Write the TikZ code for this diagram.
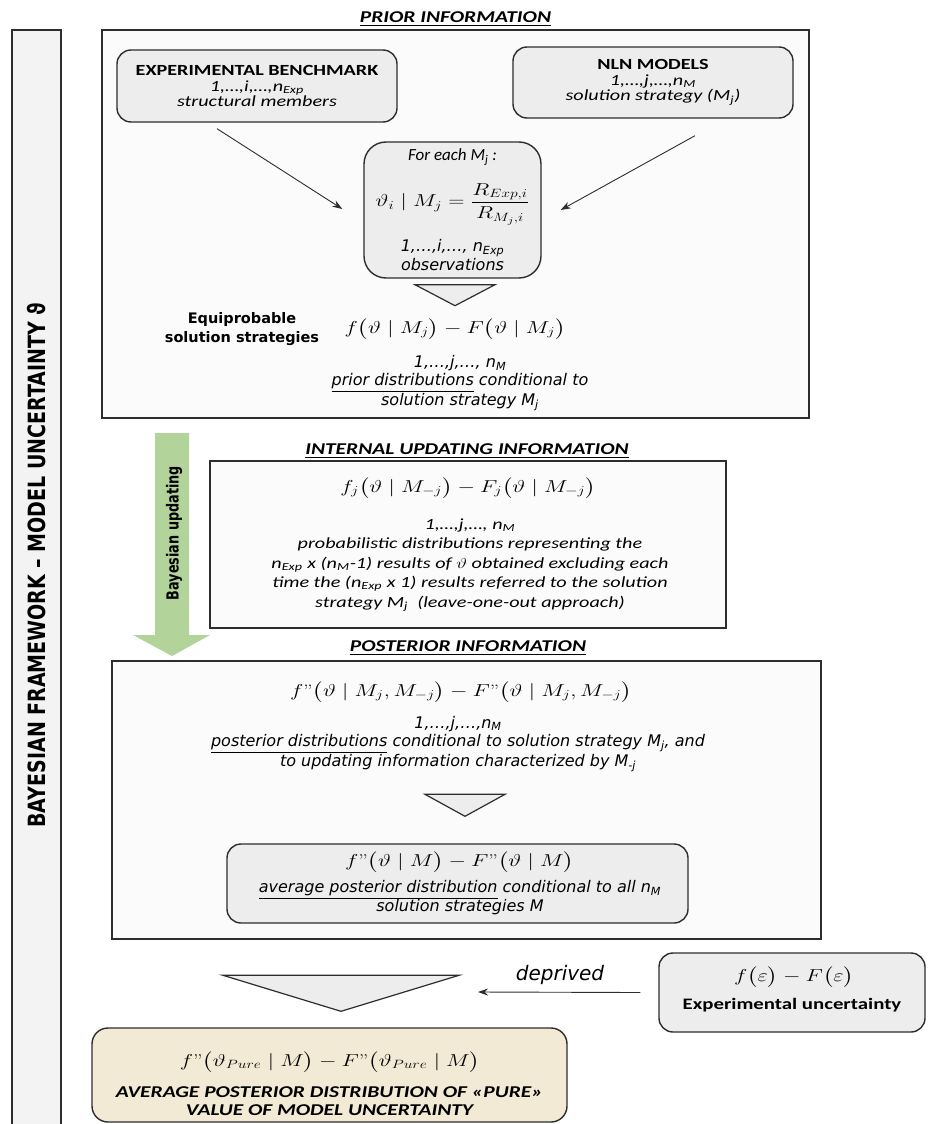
\documentclass[tikz,border=0pt]{standalone}
\usepackage{amsmath}
\usepackage{fontspec}
\usetikzlibrary{arrows.meta,calc}
\newfontfamily\calibri{Carlito}
\newfontfamily\verdana{DejaVu Sans}
\definecolor{linegray}{RGB}{45,45,45}
\definecolor{boxgray}{RGB}{237,237,237}
\definecolor{panelgray}{RGB}{251,251,251}
\definecolor{bargray}{RGB}{243,243,243}
\definecolor{bayesgreen}{RGB}{178,211,153}
\definecolor{purebeige}{RGB}{243,234,214}
\newcommand{\sz}[2]{\fontsize{#1}{#2}\selectfont}

\tikzset{
  panel/.style={draw=linegray, line width=1.8pt, fill=panelgray, inner sep=0pt},
  card/.style={draw=linegray, line width=1.4pt, fill=boxgray, rounded corners=14pt, inner sep=0pt},
  wide/.style={xscale=1.3, align=center, inner sep=0pt},
  plain/.style={align=center, inner sep=0pt},
  heading/.style={wide, font=\calibri\bfseries\itshape\sz{16.5}{18}},
  feed/.style={-{Stealth[length=10pt,width=7pt]}, line width=0.9pt, draw=linegray},
  funnel/.style={draw=linegray, line width=1.2pt, fill=boxgray, line join=miter},
}

\begin{document}
\begin{tikzpicture}[x=1pt, y=-1pt]
  \useasboundingbox[fill=white] (0,0) rectangle (928,1124);

  % side frame
  \node[draw=linegray, line width=1.6pt, fill=bargray, minimum width=49pt, minimum height=1110pt, inner sep=0pt] (frame) at (36.5,585) {};
  \node[rotate=90, yscale=1.25, inner sep=0pt, font=\verdana\bfseries\sz{19}{19}] (frametxt) at (36.5,565) {BAYESIAN FRAMEWORK – MODEL UNCERTAINTY ϑ};

  % prior information
  \node[heading] (priortitle) at (455.5,19) {\underline{PRIOR INFORMATION}};
  \node[panel, minimum width=707pt, minimum height=388pt] (prior) at (455.5,224) {};
  \node[card, minimum width=280pt, minimum height=72pt] (bench) at (257,86) {};
  \node[wide, font=\calibri\itshape\sz{15.5}{15.5}] (benchtxt) at (bench.center) {{\upshape\bfseries EXPERIMENTAL BENCHMARK}\\ 1,…,i,…,n\textsubscript{Exp}\\ structural members};
  \node[card, minimum width=280pt, minimum height=71pt] (nln) at (653,82.5) {};
  \node[wide, font=\calibri\itshape\sz{15.5}{15.5}] (nlntxt) at (nln.center) {{\upshape\bfseries NLN MODELS}\\ 1,…,j,…,n\textsubscript{M}\\ solution strategy (M\textsubscript{j})};

  \node[card, rounded corners=22pt, minimum width=177pt, minimum height=136pt] (ratio) at (452.5,210) {};
  \node[plain, font=\calibri\itshape\sz{17}{17}] (ratiohead) at (452.5,157) {For each M\textsubscript{j} :};
  \node[wide, font=\sz{18}{18}] (ratioeq) at (452.5,204) {$\vartheta_i \mid M_j = \dfrac{R_{Exp,i}}{R_{M_j,i}}$};
  \node[plain, font=\verdana\itshape\sz{16}{16}] (ratioobs) at (452.5,255) {1,…,i,…, n\textsubscript{Exp}\\ observations};

  \draw[feed] ($(bench.south)+(-40,6)$) -- ($(ratio.west)+(-21,-1)$);
  \draw[feed] ($(nln.south)+(42,17)$) -- ($(ratio.east)+(19,0)$);
  \draw[funnel] ($(ratio.south)+(-37.5,6)$) -- ++(80,0) -- ++(-40,21) -- cycle;

  \node[plain, font=\verdana\bfseries\sz{14.5}{19}] (equi) at (242,329) {Equiprobable\\ solution strategies};
  \node[wide, font=\sz{16.5}{17}] (priorf) at (455,329) {$f\bigl(\vartheta \mid M_j\bigr) - F\bigl(\vartheta \mid M_j\bigr)$};
  \node[plain, font=\verdana\itshape\sz{16}{18}] (priorlab) at (460,383) {1,…,j,…, n\textsubscript{M}\\ \underline{prior distributions} conditional to\\ solution strategy M\textsubscript{j}};

  % bayesian updating arrow
  \fill[bayesgreen] (155,433) -- (189,433) -- (189,635) -- (210,635) -- (172,656) -- (133,635) -- (155,635) -- cycle;
  \node[rotate=90, yscale=1.3, inner sep=0pt, font=\verdana\bfseries\sz{12.8}{13}] (bayes) at (174,533) {Bayesian updating};

  % internal updating information
  \node[heading] (inttitle) at (467,451) {\underline{INTERNAL UPDATING INFORMATION}};
  \node[panel, minimum width=516pt, minimum height=167pt] (internal) at (468,544.5) {};
  \node[wide, font=\sz{17}{17}] (intf) at (468,488) {$f_j\bigl(\vartheta \mid M_{-j}\bigr) - F_j\bigl(\vartheta \mid M_{-j}\bigr)$};
  \node[wide, font=\calibri\itshape\sz{15.5}{19.5}] (intlab) at (470,565) {1,…,j,…, n\textsubscript{M}\\ probabilistic distributions representing the\\ n\textsubscript{Exp} x (n\textsubscript{M}-1) results of $\vartheta$ obtained excluding each\\ time the (n\textsubscript{Exp} x 1) results referred to the solution\\ strategy M\textsubscript{j}\ \ (leave-one-out approach)};

  % posterior information
  \node[heading] (posttitle) at (468,648) {\underline{POSTERIOR INFORMATION}};
  \node[panel, minimum width=709pt, minimum height=278pt] (post) at (466.5,800) {};
  \node[wide, font=\sz{16.5}{17}] (postf) at (461,692) {$f\textnormal{"}\bigl(\vartheta \mid M_j, M_{-j}\bigr) - F\textnormal{"}\bigl(\vartheta \mid M_j, M_{-j}\bigr)$};
  \node[plain, font=\verdana\itshape\sz{16}{18.5}] (postlab) at (458,744) {1,…,j,…,n\textsubscript{M}\\ \underline{posterior distributions} conditional to solution strategy M\textsubscript{j}, and\\ to updating information characterized by M\textsubscript{-j}};

  \node[card, minimum width=461pt, minimum height=79pt] (avg) at (457.5,883.5) {};
  \draw[funnel] ($(avg.north)+(-32.5,-49)$) -- ++(80,0) -- ++(-40,22) -- cycle;
  \node[wide, font=\sz{17}{17}] (avgf) at (459.5,862) {$f\textnormal{"}\bigl(\vartheta \mid M\bigr) - F\textnormal{"}\bigl(\vartheta \mid M\bigr)$};
  \node[plain, font=\verdana\itshape\sz{16}{19}] (avglab) at (460,897.5) {\underline{average posterior distribution} conditional to all n\textsubscript{M}\\ solution strategies M};

  % pure model uncertainty
  \node[card, minimum width=266pt, minimum height=79pt] (expunc) at (792,992.5) {};
  \node[wide, font=\sz{17}{17}] (expuncf) at (794,977) {$f\bigl(\varepsilon\bigr) - F\bigl(\varepsilon\bigr)$};
  \node[wide, font=\calibri\bfseries\sz{16}{16}] (expunctxt) at (792,1005) {Experimental uncertainty};

  \node[card, fill=purebeige, rounded corners=16pt, minimum width=475pt, minimum height=94pt] (pure) at (329.5,1075) {};
  \draw[funnel] ($(pure.north)+(-106.5,-52)$) -- ++(236,0) -- ++(-118,36) -- cycle;
  \node[wide, font=\sz{17}{17}] (puref) at (330,1062) {$f\textnormal{"}\bigl(\vartheta_{Pure} \mid M\bigr) - F\textnormal{"}\bigl(\vartheta_{Pure} \mid M\bigr)$};
  \node[wide, font=\calibri\bfseries\itshape\sz{16.5}{18}] (puretxt) at (329.5,1101) {AVERAGE POSTERIOR DISTRIBUTION OF «PURE»\\ VALUE OF MODEL UNCERTAINTY};

  \coordinate (deprend) at (478,992);
  \draw[feed] ($(expunc.west)+(-18,0)$) -- (deprend);
  \node[plain, font=\verdana\itshape\sz{20}{20}] (depr) at (560,975) {deprived};
\end{tikzpicture}
\end{document}
